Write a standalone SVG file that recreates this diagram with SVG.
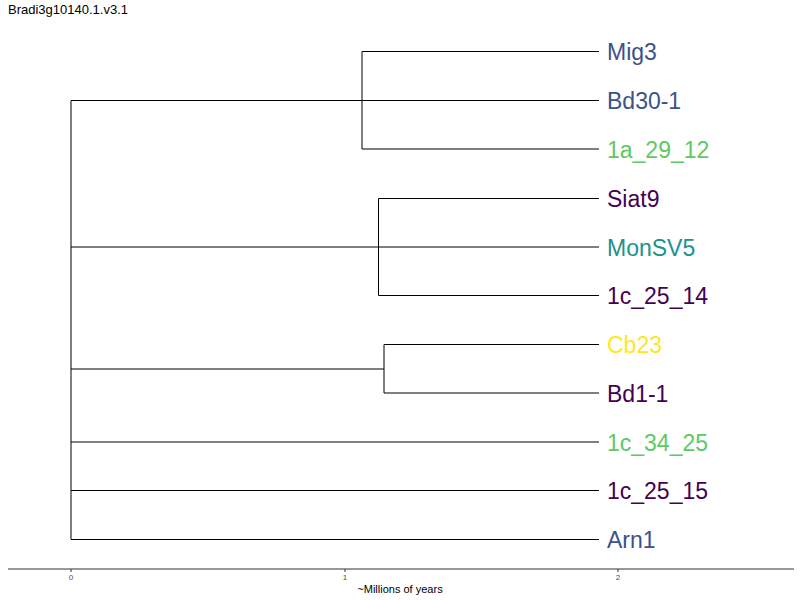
<svg xmlns="http://www.w3.org/2000/svg" width="800" height="600" viewBox="0 0 800 600">
<style>
.br{stroke:#000;stroke-width:1;fill:none}
.lab{font-family:"Liberation Sans",Arial,sans-serif;font-size:23px}
.tick{font-family:"Liberation Sans",Arial,sans-serif;font-size:8px;fill:#4d4d4d;text-anchor:middle}
</style>
<rect width="800" height="600" fill="#fff"/>
<text x="8" y="14" font-family="Liberation Sans, Arial, sans-serif" font-size="13" fill="#000">Bradi3g10140.1.v3.1</text>
<g id="connectors">
<path class="br" d="M71,100.5V539.5"/>
<path class="br" d="M362,51.5V149"/>
<path class="br" d="M362,51.5H599"/>
<path class="br" d="M71,100.5H599"/>
<path class="br" d="M362,149H599"/>
<path class="br" d="M378.5,198.5V295.5"/>
<path class="br" d="M378.5,198.5H599"/>
<path class="br" d="M71,247H599"/>
<path class="br" d="M378.5,295.5H599"/>
<path class="br" d="M71,369H384"/>
<path class="br" d="M384,344.5V393"/>
<path class="br" d="M384,344.5H599"/>
<path class="br" d="M384,393H599"/>
<path class="br" d="M71,442H599"/>
<path class="br" d="M71,490.5H599"/>
<path class="br" d="M71,539.5H599"/>
</g>
<g id="n-Mig3"><text class="lab" x="607" y="60" fill="#3b528b">Mig3</text></g>
<g id="n-Bd30-1"><text class="lab" x="607" y="108.5" fill="#3b528b">Bd30-1</text></g>
<g id="n-1a_29_12"><text class="lab" x="607" y="157.5" fill="#5ec962">1a_29_12</text></g>
<g id="n-Siat9"><text class="lab" x="607" y="206.5" fill="#440154">Siat9</text></g>
<g id="n-MonSV5"><text class="lab" x="607" y="255.5" fill="#21918c">MonSV5</text></g>
<g id="n-1c_25_14"><text class="lab" x="607" y="304" fill="#440154">1c_25_14</text></g>
<g id="n-Cb23"><text class="lab" x="607" y="353" fill="#fde725">Cb23</text></g>
<g id="n-Bd1-1"><text class="lab" x="607" y="401.5" fill="#440154">Bd1-1</text></g>
<g id="n-1c_34_25"><text class="lab" x="607" y="450.5" fill="#5ec962">1c_34_25</text></g>
<g id="n-1c_25_15"><text class="lab" x="607" y="499" fill="#440154">1c_25_15</text></g>
<g id="n-Arn1"><text class="lab" x="607" y="547.5" fill="#3b528b">Arn1</text></g>
<g id="axis">
<path d="M8,569H794" stroke="#333" stroke-width="1.2" fill="none"/>
<path d="M71,569V572M345,569V572M618,569V572" stroke="#333" stroke-width="1" fill="none"/>
<text class="tick" x="71" y="580">0</text>
<text class="tick" x="345" y="580">1</text>
<text class="tick" x="618" y="580">2</text>
<text x="400" y="593" font-family="Liberation Sans, Arial, sans-serif" font-size="11" fill="#000" text-anchor="middle">~Millions of years</text>
</g>
</svg>
